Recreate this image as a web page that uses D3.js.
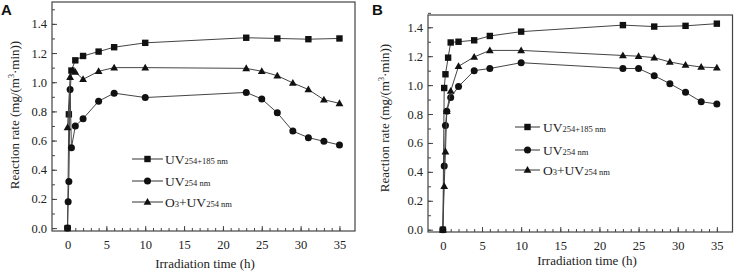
<!DOCTYPE html>
<html>
<head>
<meta charset="utf-8">
<script src="https://cdn.jsdelivr.net/npm/d3@7"></script>
<style>
  body { margin: 0; background: #fff; }
  svg { display: block; }
</style>
</head>
<body>
<svg id="chart" width="737" height="275"></svg>
<script>
// panel A
const timeA_sq = [0, 0.17, 0.5, 1, 2, 4, 6, 10, 23, 27, 31, 35];
const rateA_sq = [0, 0.78, 1.08, 1.15, 1.18, 1.21, 1.24, 1.27, 1.305, 1.3, 1.295, 1.3];
const timeA_ci = [0, 0.08, 0.17, 0.33, 0.5, 1, 2, 4, 6, 10, 23, 25, 27, 29, 31, 33, 35];
const rateA_ci = [0, 0.18, 0.32, 0.95, 0.55, 0.7, 0.75, 0.87, 0.925, 0.895, 0.93, 0.885, 0.79, 0.665, 0.62, 0.595, 0.57];
const timeA_tr = [0, 0.33, 0.67, 1, 2, 4, 6, 10, 23, 25, 27, 29, 31, 33, 35];
const rateA_tr = [0.69, 1.035, 1.08, 1.07, 1.02, 1.075, 1.1, 1.1, 1.095, 1.075, 1.045, 0.995, 0.95, 0.88, 0.855];

// panel B
const timeB_sq = [0, 0.17, 0.33, 0.67, 1, 2, 4, 6, 10, 23, 27, 31, 35];
const rateB_sq = [0, 0.98, 1.075, 1.19, 1.295, 1.3, 1.31, 1.34, 1.37, 1.415, 1.405, 1.41, 1.425];
const timeB_ci = [0, 0.17, 0.33, 0.5, 1, 2, 4, 6, 10, 23, 25, 27, 29, 31, 33, 35];
const rateB_ci = [0, 0.44, 0.72, 0.82, 0.915, 0.99, 1.1, 1.115, 1.155, 1.115, 1.115, 1.065, 1.01, 0.95, 0.885, 0.87];
const timeB_tr = [0, 0.17, 0.33, 0.5, 1, 2, 4, 6, 10, 23, 25, 27, 29, 31, 33, 35];
const rateB_tr = [0, 0.3, 0.54, 0.82, 0.96, 1.13, 1.195, 1.24, 1.24, 1.205, 1.2, 1.19, 1.16, 1.14, 1.125, 1.12];

const xTicks = [0, 5, 10, 15, 20, 25, 30, 35];
const yTicks = [0, 0.2, 0.4, 0.6, 0.8, 1.0, 1.2, 1.4];

const serif = '"Liberation Serif", "Times New Roman", serif';
const svg = d3.select('#chart');

const zip = (t, v) => t.map((d, i) => ({ x: d, y: v[i] }));

const panels = [
  {
    letter: 'A', letterX: 1, left: 52, right: 355, top: 2, bottom: 231,
    xDomain: [-2, 37], yDomain: [-0.02, 1.55],
    legend: { x1: 132, x2: 163, tx: 165, ys: [159, 181, 202] },
    ytitle: { x: 14, y: 115 }, xtitle: { x: 205, y: 268 },
    series: [zip(timeA_sq, rateA_sq), zip(timeA_ci, rateA_ci), zip(timeA_tr, rateA_tr)],
  },
  {
    letter: 'B', letterX: 372, left: 428, right: 732.5, top: 15, bottom: 232,
    xDomain: [-1.9, 37], yDomain: [-0.016, 1.485],
    legend: { x1: 515, x2: 540, tx: 543, ys: [127, 150, 170] },
    ytitle: { x: 384, y: 118 }, xtitle: { x: 587, y: 265 },
    series: [zip(timeB_sq, rateB_sq), zip(timeB_ci, rateB_ci), zip(timeB_tr, rateB_tr)],
  },
];

const markers = ['square', 'circle', 'triangle'];
const legendText = [
  [['UV', 13.5], ['254+185 nm', 8.5]],
  [['UV', 13.5], ['254 nm', 8.5]],
  [['O', 13.5], ['3', 8.5], ['+UV', 13.5], ['254 nm', 8.5]],
];

const drawMarker = (g, type, x, y) => {
  if (type === 'square') {
    g.append('rect').attr('x', x - 3.2).attr('y', y - 3.2)
      .attr('width', 6.4).attr('height', 6.4).attr('fill', '#111');
  } else if (type === 'circle') {
    g.append('circle').attr('cx', x).attr('cy', y).attr('r', 3.5).attr('fill', '#111');
  } else {
    g.append('path')
      .attr('d', `M${x},${y - 4}L${x + 3.9},${y + 2.8}L${x - 3.9},${y + 2.8}Z`)
      .attr('fill', '#111');
  }
};

panels.forEach(p => {
  const x = d3.scaleLinear().domain(p.xDomain).range([p.left, p.right]);
  const y = d3.scaleLinear().domain(p.yDomain).range([p.bottom, p.top]);
  const g = svg.append('g');

  // frame
  g.append('rect')
    .attr('x', p.left).attr('y', p.top)
    .attr('width', p.right - p.left).attr('height', p.bottom - p.top)
    .attr('fill', 'none').attr('stroke', '#444').attr('stroke-width', 1.2);

  // x axis, ticks inward
  const xAxis = g.append('g').attr('transform', `translate(0,${p.bottom})`);
  xAxis.call(d3.axisBottom(x).tickValues(d3.range(0, 36, 1)).tickSize(-3).tickFormat(''));
  xAxis.call(g2 => g2.select('.domain').remove());
  const xMajor = g.append('g').attr('transform', `translate(0,${p.bottom})`)
    .call(d3.axisBottom(x).tickValues(xTicks).tickSize(-5).tickPadding(9));
  xMajor.select('.domain').remove();
  xMajor.selectAll('text').attr('font-family', serif).attr('font-size', 12.5).attr('fill', '#222');

  // y axis, ticks inward
  const yMinor = g.append('g').attr('transform', `translate(${p.left},0)`)
    .call(d3.axisLeft(y).tickValues(d3.range(0, 1.51, 0.1)).tickSize(-3).tickFormat(''));
  yMinor.select('.domain').remove();
  const yMajor = g.append('g').attr('transform', `translate(${p.left},0)`)
    .call(d3.axisLeft(y).tickValues(yTicks).tickSize(-5).tickPadding(5).tickFormat(d3.format('.1f')));
  yMajor.select('.domain').remove();
  yMajor.selectAll('text').attr('font-family', serif).attr('font-size', 12.5).attr('fill', '#222');
  g.selectAll('.tick line').attr('stroke', '#444');

  // series
  const line = d3.line().x(d => x(d.x)).y(d => y(d.y));
  p.series.forEach((s, i) => {
    g.append('path').datum(s).attr('d', line)
      .attr('fill', 'none').attr('stroke', '#444').attr('stroke-width', 1);
    s.forEach(d => drawMarker(g, markers[i], x(d.x), y(d.y)));
  });

  // legend
  legendText.forEach((parts, i) => {
    const ly = p.legend.ys[i];
    g.append('line').attr('x1', p.legend.x1).attr('x2', p.legend.x2)
      .attr('y1', ly).attr('y2', ly).attr('stroke', '#333').attr('stroke-width', 1);
    drawMarker(g, markers[i], (p.legend.x1 + p.legend.x2) / 2, ly);
    const t = g.append('text').attr('x', p.legend.tx).attr('y', ly + 4.5)
      .attr('font-family', serif).attr('fill', '#222');
    parts.forEach(([str, fs]) => t.append('tspan').attr('font-size', fs).text(str));
  });

  // titles
  g.append('text')
    .attr('transform', `translate(${p.ytitle.x},${p.ytitle.y}) rotate(-90)`)
    .attr('text-anchor', 'middle').attr('dy', '0.35em')
    .attr('font-family', serif).attr('font-size', 13).attr('fill', '#222')
    .call(t => {
      t.append('tspan').text('Reaction rate (mg/(m');
      t.append('tspan').attr('font-size', 8).attr('dy', -5).text('3');
      t.append('tspan').attr('dy', 5).text('\u00b7min))');
    });
  g.append('text').attr('x', p.xtitle.x).attr('y', p.xtitle.y)
    .attr('text-anchor', 'middle')
    .attr('font-family', serif).attr('font-size', 13).attr('fill', '#222')
    .text('Irradiation time (h)');

  g.append('text').attr('x', p.letterX).attr('y', 15)
    .attr('font-family', '"Liberation Sans", Arial, sans-serif')
    .attr('font-weight', 'bold').attr('font-size', 15).attr('fill', '#111')
    .text(p.letter);
});
</script>
</body>
</html>
